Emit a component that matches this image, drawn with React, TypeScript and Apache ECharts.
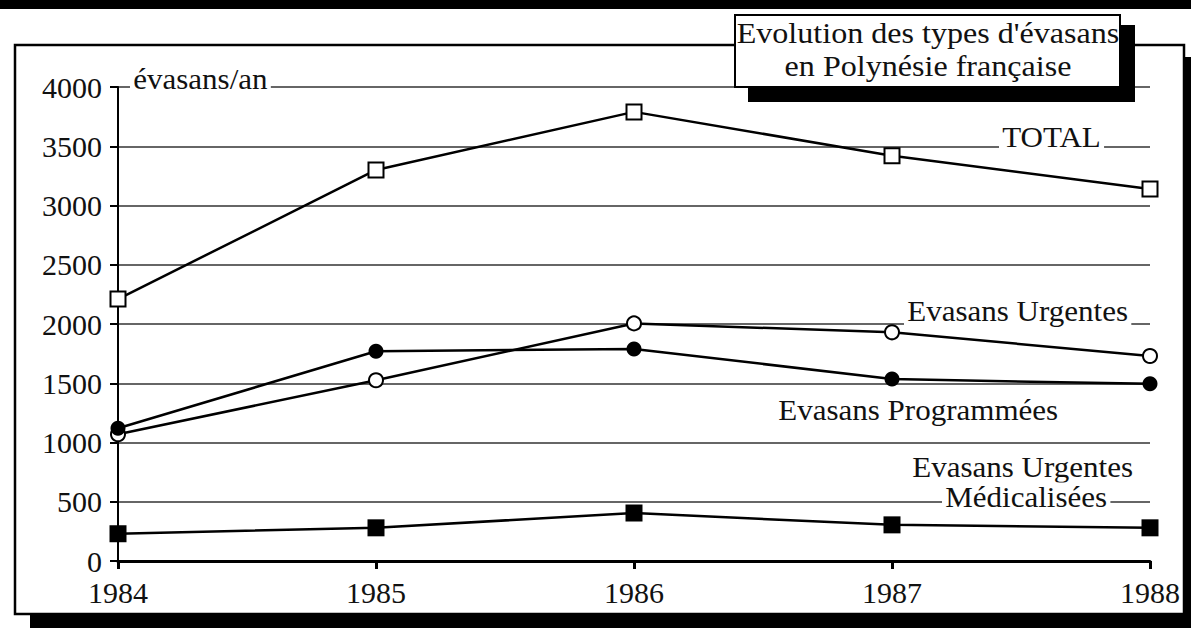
import React, { useEffect, useRef } from "react";
import * as echarts from "echarts";

const years = ["1984", "1985", "1986", "1987", "1988"];
const total = [2210, 3300, 3790, 3420, 3140];
const urgentes = [1070, 1525, 2005, 1930, 1730];
const programmees = [1120, 1770, 1790, 1535, 1495];
const medicalisees = [230, 280, 405, 305, 280];
const yTicks = { min: 0, max: 4000, interval: 500 };

const FONT = "'Liberation Serif', 'Times New Roman', serif";
const INK = "#111";
const SX = 1.07;

export default function App() {
  const ref = useRef<HTMLDivElement>(null);
  useEffect(() => {
    if (!ref.current) return;
    const chart = echarts.init(ref.current, null, { renderer: "svg" });
    const lineSeries = (name: string, data: number[], symbol: string, size: number, filled: boolean) => ({
      name,
      type: "line",
      data,
      symbol,
      symbolSize: size,
      showAllSymbol: true,
      z: 5,
      lineStyle: { color: "#000", width: 2.5 },
      itemStyle: { color: filled ? "#000" : "#fff", borderColor: "#000", borderWidth: filled ? 0 : 2 },
      emphasis: { disabled: true },
    });
    const label = (text: string, x: number, y: number, size = 29) => ({
      type: "text",
      x,
      y,
      z: 20,
      scaleX: SX,
      style: {
        text,
        font: `${size}px ${FONT}`,
        fill: INK,
        backgroundColor: "#fff",
        padding: [0, 3],
        textVerticalAlign: "middle",
      },
    });
    chart.setOption({
      animation: false,
      backgroundColor: "#fff",
      grid: { left: 118, right: 41, top: 87, bottom: 74, containLabel: false },
      xAxis: {
        type: "category",
        data: years,
        boundaryGap: false,
        axisLine: { lineStyle: { color: "#000", width: 3 } },
        axisTick: { show: true, length: 8, lineStyle: { color: "#000", width: 3 } },
        axisLabel: { color: INK, fontFamily: FONT, fontSize: 30, lineHeight: 22, margin: 20 },
        splitLine: { show: false },
      },
      yAxis: {
        type: "value",
        min: yTicks.min,
        max: yTicks.max,
        interval: yTicks.interval,
        axisLine: { show: true, lineStyle: { color: "#000", width: 2 } },
        axisTick: { show: true, length: 8, lineStyle: { color: "#000", width: 2 } },
        axisLabel: { color: INK, fontFamily: FONT, fontSize: 30, lineHeight: 22, margin: 16, formatter: (v: number) => String(v) },
        splitLine: { show: true, lineStyle: { color: "#333", width: 1.6 } },
      },
      series: [
        lineSeries("TOTAL", total, "rect", 15, false),
        lineSeries("Evasans Urgentes", urgentes, "circle", 14, false),
        lineSeries("Evasans Programmées", programmees, "circle", 15, true),
        lineSeries("Evasans Urgentes Médicalisées", medicalisees, "rect", 17, true),
      ],
      graphic: [
        { type: "rect", z: -100, shape: { x: 0, y: 0, width: 1191, height: 9 }, style: { fill: "#000" } },
        { type: "rect", z: -100, shape: { x: 30, y: 57, width: 1170, height: 571 }, style: { fill: "#000" } },
        { type: "rect", z: -99, shape: { x: 15, y: 45, width: 1169, height: 569 }, style: { fill: "#fff", stroke: "#000", lineWidth: 2.5 } },
        { type: "rect", z: 30, shape: { x: 748, y: 25, width: 387, height: 77 }, style: { fill: "#000" } },
        { type: "rect", z: 31, shape: { x: 735, y: 15, width: 385, height: 72 }, style: { fill: "#fff", stroke: "#000", lineWidth: 2 } },
        {
          type: "text",
          z: 32,
          x: 928,
          y: 49,
          scaleX: SX,
          style: {
            text: "Evolution des types d'évasans\nen Polynésie française",
            font: `30px ${FONT}`,
            fill: INK,
            textAlign: "center",
            textVerticalAlign: "middle",
            lineHeight: 33,
          },
        },
        label("évasans/an", 130, 79),
        label("TOTAL", 999, 137),
        label("Evasans Urgentes", 904, 311),
        label("Evasans Programmées", 775, 410),
        label("Evasans Urgentes", 909, 467),
        label("Médicalisées", 942, 497),
      ],
    });
    return () => chart.dispose();
  }, []);
  return <div ref={ref} style={{ position: "absolute", left: 0, top: 0, width: 1191, height: 635 }} />;
}
